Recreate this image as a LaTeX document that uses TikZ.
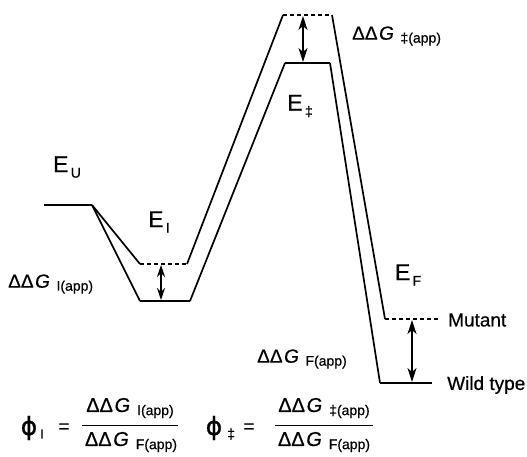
\documentclass[tikz,border=0pt]{standalone}
\usepackage{fontspec}
\setmainfont{Liberation Sans}[UprightFeatures={FakeBold=0.6},ItalicFeatures={FakeBold=0.6}]
\newfontfamily\phifont{DejaVu Sans}[FakeBold=0.8]
\usetikzlibrary{arrows.meta}

% Delta-Delta-G with a lowered subscript
\newcommand{\ddG}[1]{ΔΔ\hspace{0.08em}\textit{G}\hspace{0.35em}\raisebox{-0.3ex}{\fontsize{14}{14}\selectfont #1}}
% Energy label with subscript
\newcommand{\En}[1]{E\hspace{0.1em}\raisebox{-0.45ex}{\fontsize{14}{14}\selectfont #1}}

\begin{document}
\begin{tikzpicture}[x=1pt,y=-1pt,
  profile/.style={line width=1.7pt, line join=miter},
  wtlevel/.style={line width=2.7pt},
  mutlevel/.style={line width=2pt, dash pattern=on 4pt off 3pt},
  gap/.style={{Stealth[length=14pt,width=9pt,inset=4pt]}-{Stealth[length=14pt,width=9pt,inset=4pt]}, line width=1.2pt},
  gapshort/.style={{Stealth[length=12pt,width=8pt,inset=4pt]}-{Stealth[length=12pt,width=8pt,inset=4pt]}, line width=1.2pt},
  elabel/.style={font=\fontsize{23}{26}\selectfont, inner sep=0pt},
  ddlabel/.style={font=\fontsize{19}{22}\selectfont, inner sep=0pt, anchor=west},
  tag/.style={font=\fontsize{19}{22}\selectfont, inner sep=0pt, anchor=west},
  phi/.style={font=\phifont\fontsize{25}{28}\selectfont, inner sep=0pt},
  eqs/.style={font=\fontsize{19}{20}\selectfont, inner sep=0pt},
  fracpart/.style={font=\fontsize{20}{22}\selectfont, inner sep=0pt},
  fracrule/.style={line width=1pt}]
\useasboundingbox (0,0) rectangle (527,457);

% unfolded state
\coordinate (u0) at (44,205);
\coordinate (u1) at (92,205);
% mutant levels
\coordinate (mIa) at (140,264);
\coordinate (mIb) at (187,264);
\coordinate (mTa) at (283,15);
\coordinate (mTb) at (332,15);
\coordinate (mFa) at (385,319);
\coordinate (mFb) at (438,319);
% wild-type levels
\coordinate (wIa) at (140,301);
\coordinate (wIb) at (190,301);
\coordinate (wTa) at (285,63);
\coordinate (wTb) at (330,63);
\coordinate (wFa) at (380,383);
\coordinate (wFb) at (432,383);

% wild-type profile
\draw[profile] (u1) -- (wIa) (wIb) -- (wTa) (wTb) -- (wFa);
\draw[wtlevel] (u0) -- (u1);
\draw[wtlevel] (wIa) -- (wIb);
\draw[wtlevel] (wTa) -- (wTb);
\draw[wtlevel] (wFa) -- (wFb);

% mutant profile
\draw[profile] (u1) -- (mIa) (mIb) -- (mTa) (mTb) -- (mFa);
\draw[mutlevel] (mIa) -- (mIb);
\draw[mutlevel] (mTa) -- (mTb);
\draw[mutlevel] (mFa) -- (mFb);

% free-energy differences
\coordinate (gIt) at (161,265);
\coordinate (gIb) at (161,300);
\coordinate (gTt) at (303,16);
\coordinate (gTb) at (303,62);
\coordinate (gFt) at (412,320);
\coordinate (gFb) at (412,382);
\draw[gapshort] (gIt) -- (gIb);
\draw[gap] (gTt) -- (gTb);
\draw[gap] (gFt) -- (gFb);

% state labels
\node[elabel] (EU) at (67,167) {\En{U}};
\node[elabel] (EI) at (159,222) {\En{I}};
\node[elabel] (ET) at (300,106) {\En{‡}};
\node[elabel] (EF) at (408,275) {\En{F}};

\node[ddlabel] (dI) at (8,284) {\ddG{I(app)}};
\node[ddlabel] (dT) at (352,36) {\ddG{‡(app)}};
\node[ddlabel] (dF) at (257,359) {\ddG{F(app)}};

\node[tag] (mut) at (448,320) {Mutant};
\node[tag] (wt) at (447,385) {Wild type};

% phi values
\node[phi] (phiI) at (29,428) {ϕ};
\node[eqs, anchor=west] (subI) at (40,434) {\fontsize{13}{13}\selectfont I};
\node[eqs] (eqI) at (64,428) {=};
\node[fracpart] (numI) at (130,408) {\ddG{I(app)}};
\node[fracpart] (denI) at (131,442) {\ddG{F(app)}};
\draw[fracrule] (82,425) coordinate (rIa) -- (178,425) coordinate (rIb);

\node[phi] (phiT) at (214,428) {ϕ};
\node[eqs, anchor=west] (subT) at (227,434) {\fontsize{14}{14}\selectfont ‡};
\node[eqs] (eqT) at (249,428) {=};
\node[fracpart] (numT) at (324,408) {\ddG{‡(app)}};
\node[fracpart] (denT) at (324,442) {\ddG{F(app)}};
\draw[fracrule] (275,425) coordinate (rTa) -- (373,425) coordinate (rTb);
\end{tikzpicture}
\end{document}
